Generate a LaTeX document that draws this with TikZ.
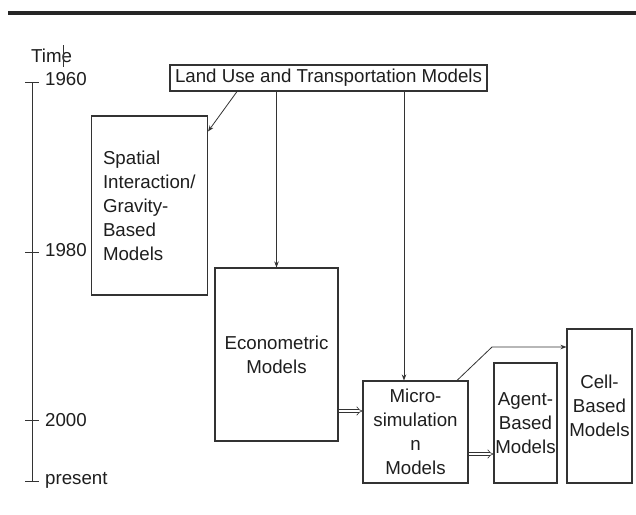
\documentclass[tikz,border=0pt]{standalone}
\usepackage{fontspec}
\setmainfont{Liberation Sans}
\usetikzlibrary{arrows.meta,calc}
\definecolor{ink}{HTML}{333333}
\definecolor{txt}{HTML}{1E1E1E}
\begin{document}
\begin{tikzpicture}[x=1pt,y=-1pt,
  box/.style={draw=ink,line width=1.1pt,inner sep=0pt,text=txt,align=center,
    font=\fontsize{18.7}{24}\selectfont},
  lbl/.style={text=txt,font=\fontsize{18.7}{24}\selectfont,inner sep=0pt,anchor=west},
  conn/.style={draw=ink,line width=0.8pt,-{Stealth[length=6pt,width=4.5pt]}},
  dbl/.style={draw=ink,line width=0.6pt,double,double distance=2.6pt,-{Implies}},
  axis/.style={draw=ink,line width=1pt}]
\useasboundingbox (0,0) rectangle (636,514);
\fill[white] (0,0) rectangle (636,514);
% top rule
\draw[line width=3.5pt,color=black!85] (8,13) -- (636,13);
% timeline
\node[lbl] (time) at (31,56) {Time};
\draw[line width=0.7pt,color=ink] (63,45) -- (63,67);
\draw[axis] (32,82) -- (32,481);
\draw[axis] (25,82) -- (39,82);
\draw[axis] (25,252) -- (39,252);
\draw[axis] (25,420) -- (39,420);
\draw[axis] (25,481) -- (39,481);
\node[lbl] (y1960) at (45,79) {1960};
\node[lbl] (y1980) at (45,250) {1980};
\node[lbl] (y2000) at (45,420) {2000};
\node[lbl] (ypres) at (45,480) {present};
% boxes
\node[box,minimum width=317pt,minimum height=26pt] (land) at (328.5,78) {Land Use and Transportation Models};
\node[box,minimum width=116pt,minimum height=179pt,text width=93pt,align=left] (spat) at (149.5,205.5)
  {Spatial\\Interaction/\\Gravity-\\Based\\Models};
\node[box,minimum width=123pt,minimum height=173pt] (econ) at (276.5,354.5) {Econometric\\Models};
\node[box,minimum width=105pt,minimum height=102pt] (micro) at (415.5,432) {Micro-\\simulation\\n\\Models};
\node[box,minimum width=63pt,minimum height=120pt] (agent) at (525.5,423) {Agent-\\Based\\Models};
\node[box,minimum width=65pt,minimum height=154pt] (cell) at (599.5,406) {Cell-\\Based\\Models};
% connectors
\draw[conn] ([xshift=-91.5pt]land.south) -- ([yshift=-16pt]spat.north east);
\draw[conn] (econ.north |- land.south) -- (econ.north);
\coordinate (mtop) at (404,381);
\draw[conn] (mtop |- land.south) -- (mtop |- micro.north);
\coordinate (e1) at (338,411);
\draw[dbl] (e1 -| econ.east) -- (e1 -| micro.west);
\coordinate (e2) at (468,454);
\draw[dbl] (e2 -| micro.east) -- (e2 -| agent.west);
\coordinate (c1) at (457,381);
\coordinate (c2) at (492,347);
\draw[conn] (c1 |- micro.north) -- (c2) -- (c2 -| cell.west);
\end{tikzpicture}
\end{document}
